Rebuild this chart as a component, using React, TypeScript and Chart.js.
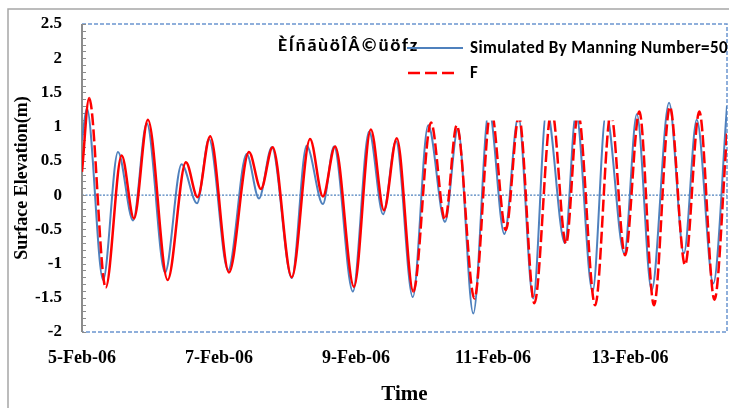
import React, { useEffect, useRef } from "react";
import { Chart, registerables } from "chart.js";

Chart.register(...registerables);

// Time axis: hours since 5-Feb-06 00:00
const tickLabels = ["5-Feb-06", "7-Feb-06", "9-Feb-06", "11-Feb-06", "13-Feb-06"];
const tickHours = [0, 48, 96, 144, 192];
const yTicks = [-2, -1.5, -1, -0.5, 0, 0.5, 1, 1.5, 2, 2.5];

const seriesNames = ["Simulated By Manning Number=50", "F"];
const legendTitle = "ÈÍñãùöÎÂ©üöfz";

// Simulated (blue)
const simHours = [0, 1.7, 7.4, 12.6, 17.9, 22.7, 29.1, 34.9, 40.3, 44.5, 51.2, 57.7, 62.0, 66.5, 73.5, 78.7, 84.4, 88.3, 94.9, 100.6, 105.5, 110.0, 115.9, 121.3, 127.2, 131.7, 137.1, 142.6, 148.0, 152.9, 158.1, 162.8, 169.2, 173.1, 178.9, 183.6, 190.0, 194.4, 199.6, 205.7, 210.9, 215.4, 221.2, 226.0];
const simValues = [0.80, 1.27, -1.24, 0.63, -0.37, 1.05, -1.13, 0.45, -0.12, 0.82, -1.10, 0.60, -0.05, 0.70, -1.21, 0.72, -0.13, 0.71, -1.41, 0.93, -0.28, 0.79, -1.49, 1.02, -0.39, 0.97, -1.73, 1.25, -0.57, 1.15, -1.51, 1.25, -0.70, 1.20, -1.41, 1.20, -0.85, 1.18, -1.39, 1.35, -0.85, 1.10, -1.29, 1.30];

// Observed (red)
const obsHours = [0, 2.5, 8.3, 13.9, 18.2, 23.1, 30.0, 36.4, 40.5, 44.9, 51.5, 58.5, 62.7, 66.8, 73.5, 79.9, 84.4, 88.7, 95.3, 101.2, 105.8, 110.3, 116.1, 122.3, 127.2, 131.3, 137.5, 143.3, 148.5, 153.1, 158.5, 164.6, 169.6, 173.8, 179.8, 185.3, 190.3, 195.3, 200.4, 206.0, 211.3, 216.3, 221.6, 226.0];
const obsValues = [0.34, 1.42, -1.35, 0.58, -0.34, 1.10, -1.24, 0.48, -0.03, 0.86, -1.13, 0.63, 0.09, 0.70, -1.20, 0.82, -0.02, 0.71, -1.34, 0.96, -0.22, 0.83, -1.41, 1.06, -0.36, 1.02, -1.51, 1.25, -0.51, 1.15, -1.58, 1.25, -0.71, 1.20, -1.61, 1.20, -0.88, 1.22, -1.61, 1.29, -1.02, 1.22, -1.53, 0.90];

const SERIF = "'Times New Roman', 'Liberation Serif', serif";
const SANS = "Calibri, 'Liberation Sans', Arial, sans-serif";
const BLUE = "#4f81bd";
const RED = "#ff0000";

function fitText(ctx: CanvasRenderingContext2D, text: string, x: number, y: number, width: number) {
  const chars = Array.from(text);
  const w = ctx.measureText(text).width;
  if (w >= width || chars.length < 2) {
    ctx.fillText(text, x, y, width);
    return;
  }
  const extra = (width - w) / (chars.length - 1);
  let cx = x;
  for (const ch of chars) {
    ctx.fillText(ch, cx, y);
    cx += ctx.measureText(ch).width + extra;
  }
}

export default function App() {
  const ref = useRef<HTMLCanvasElement>(null);

  useEffect(() => {
    const canvas = ref.current;
    if (!canvas) return;

    const framePlugin = {
      id: "framePlugin",
      beforeDraw(chart: any) {
        const ctx = chart.ctx;
        ctx.save();
        ctx.strokeStyle = "#a6a6a6";
        ctx.lineWidth = 1.5;
        ctx.beginPath();
        ctx.moveTo(8, 408);
        ctx.lineTo(8, 9);
        ctx.lineTo(729, 9);
        ctx.stroke();
        ctx.restore();
      },
      beforeDatasetsDraw(chart: any) {
        const { ctx, chartArea: a } = chart;
        const y = chart.scales.y;
        ctx.save();
        const y0 = y.getPixelForValue(0);
        ctx.strokeStyle = BLUE;
        ctx.lineWidth = 1.2;
        ctx.setLineDash([2, 1.5]);
        ctx.beginPath();
        ctx.moveTo(a.left, y0);
        ctx.lineTo(a.right, y0);
        ctx.stroke();
        ctx.strokeStyle = "#6b95cf";
        ctx.lineWidth = 1.5;
        ctx.setLineDash([4, 2]);
        ctx.beginPath();
        ctx.moveTo(a.left, a.top);
        ctx.lineTo(a.right, a.top);
        ctx.lineTo(a.right, a.bottom);
        ctx.lineTo(a.left, a.bottom);
        ctx.stroke();
        ctx.setLineDash([]);
        ctx.strokeStyle = "#8c8c8c";
        ctx.lineWidth = 2;
        ctx.beginPath();
        ctx.moveTo(a.left, a.top);
        ctx.lineTo(a.left, a.bottom);
        ctx.stroke();
        ctx.lineWidth = 1;
        for (let i = 0; i <= 45; i++) {
          const py = Math.round(y.getPixelForValue(-2 + i * 0.1)) + 0.5;
          ctx.beginPath();
          ctx.moveTo(a.left, py);
          ctx.lineTo(a.left + 4, py);
          ctx.stroke();
        }
        ctx.restore();
      },
      afterDatasetsDraw(chart: any) {
        const ctx = chart.ctx;
        ctx.save();
        ctx.fillStyle = "#ffffff";
        ctx.fillRect(272, 27, 350, 93.5);
        ctx.fillStyle = "#000";
        ctx.textBaseline = "alphabetic";
        ctx.textAlign = "left";
        ctx.font = `bold 19px ${SANS}`;
        fitText(ctx, legendTitle, 278, 51, 139);
        // blue sample
        ctx.strokeStyle = BLUE;
        ctx.lineWidth = 2;
        ctx.beginPath();
        ctx.moveTo(407, 48);
        ctx.lineTo(463, 48);
        ctx.stroke();
        // red dashed sample
        ctx.strokeStyle = RED;
        ctx.lineWidth = 2.5;
        ctx.setLineDash([12, 5]);
        ctx.beginPath();
        ctx.moveTo(408, 73);
        ctx.lineTo(458, 73);
        ctx.stroke();
        ctx.setLineDash([]);
        ctx.font = `bold 17px ${SANS}`;
        fitText(ctx, seriesNames[0], 470, 53, 257);
        ctx.fillText(seriesNames[1], 470, 78);
        ctx.restore();
      },
    };

    const isDashed = (h: number) => h >= 116 || (h >= 2 && h < 8);

    const chart = new Chart(canvas, {
      type: "line",
      data: {
        datasets: [
          {
            label: seriesNames[0],
            data: simHours.map((h, i) => ({ x: h, y: simValues[i] })),
            borderColor: BLUE,
            borderWidth: 2,
            pointRadius: 0,
            cubicInterpolationMode: "monotone",
            order: 1,
          },
          {
            label: seriesNames[1],
            data: obsHours.map((h, i) => ({ x: h, y: obsValues[i] })),
            borderColor: RED,
            borderWidth: 2.5,
            pointRadius: 0,
            cubicInterpolationMode: "monotone",
            order: 0,
            segment: {
              borderDash: (ctx: any) => (isDashed(ctx.p0.parsed.x) ? [12, 4] : undefined),
            },
          },
        ],
      },
      options: {
        responsive: false,
        animation: false,
        layout: { padding: { left: 0, top: 24, right: 2, bottom: 0 } },
        plugins: { legend: { display: false }, tooltip: { enabled: false } },
        scales: {
          x: {
            type: "linear",
            min: 0,
            max: 226,
            afterBuildTicks: (s: any) => {
              s.ticks = tickHours.map((v) => ({ value: v }));
            },
            afterFit: (s: any) => {
              s.height = 76;
            },
            grid: { display: false },
            border: { display: false },
            ticks: {
              color: "#000",
              padding: 8,
              maxRotation: 0,
              autoSkip: false,
              font: { family: SERIF, size: 18, weight: "bold" },
              callback: (v: any) => tickLabels[tickHours.indexOf(Number(v))] ?? "",
            },
            title: {
              display: true,
              text: "Time",
              color: "#000",
              padding: { top: 0, bottom: 1 },
              font: { family: SERIF, size: 21, weight: "bold" },
            },
          },
          y: {
            min: -2,
            max: 2.5,
            afterBuildTicks: (s: any) => {
              s.ticks = yTicks.map((v) => ({ value: v }));
            },
            afterFit: (s: any) => {
              s.width = 82;
            },
            grid: {
              display: true,
              drawOnChartArea: false,
              drawTicks: true,
              tickLength: 20,
              color: "rgba(0,0,0,0)",
            },
            border: { display: false },
            ticks: {
              color: "#000",
              padding: 0,
              font: { family: SERIF, size: 17, weight: "bold" },
              callback: (v: any) => String(v),
            },
            title: {
              display: true,
              text: "Surface Elevation(m)",
              color: "#000",
              padding: { top: 12, bottom: 0 },
              font: { family: SERIF, size: 18, weight: "bold" },
            },
          },
        },
      },
      plugins: [framePlugin],
    } as any);

    return () => chart.destroy();
  }, []);

  return (
    <div style={{ position: "fixed", left: 0, top: 0, width: 729, height: 408, background: "#fff" }}>
      <canvas ref={ref} width={729} height={408} style={{ display: "block", width: 729, height: 408 }} />
    </div>
  );
}
